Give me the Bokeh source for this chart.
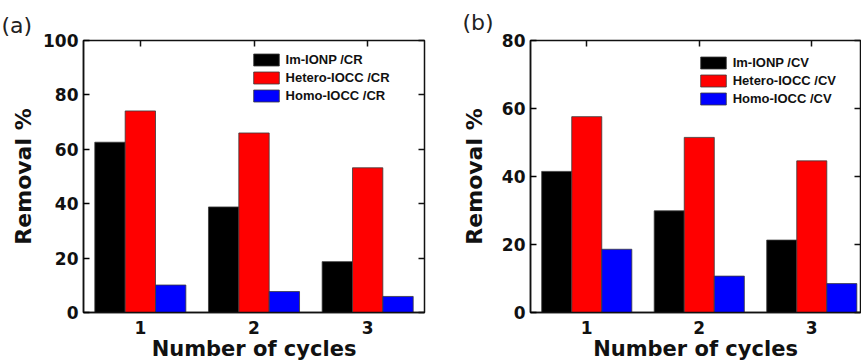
from bokeh.plotting import figure
from bokeh.models import (LinearAxis, FixedTicker, Range1d, Legend, LegendItem,
                          ColumnDataSource, Title)
from bokeh.transform import dodge
from bokeh.layouts import row
from bokeh.embed import file_html
from bokeh.resources import INLINE

# ---- data ----
cycles = [1, 2, 3]
series_cr = ["Im-IONP /CR", "Hetero-IOCC /CR", "Homo-IOCC /CR"]
series_cv = ["Im-IONP /CV", "Hetero-IOCC /CV", "Homo-IOCC /CV"]
im_cr = [62.6, 38.8, 18.7]
hetero_cr = [74.1, 66.0, 53.2]
homo_cr = [10.1, 7.7, 5.9]
im_cv = [41.5, 29.9, 21.3]
hetero_cv = [57.6, 51.5, 44.6]
homo_cv = [18.6, 10.7, 8.5]
yticks_cr = [0, 20, 40, 60, 80, 100]
yticks_cv = [0, 20, 40, 60, 80]

COLORS = ["#000000", "#ff0000", "#0000ff"]
BOLD_FONT = "DejaVu Sans"
BAR_W = 0.267
INK = "#111111"


def make_panel(tag, names, vals, yticks, ymax, width, xend, left, top, right,
               legend_loc, ylab_standoff, tag_offset, tag_standoff):
    p = figure(width=width, height=364, output_backend="svg", toolbar_location=None,
               title=None,
               x_range=Range1d(0.5, xend), y_range=Range1d(0, ymax),
               min_border_left=left, min_border_top=top, min_border_right=right,
               min_border_bottom=52)
    p.grid.grid_line_color = None
    p.outline_line_color = INK
    p.outline_line_width = 1.5
    p.background_fill_color = "white"
    p.border_fill_color = "white"

    src = ColumnDataSource(dict(cycle=cycles, a=vals[0], b=vals[1], c=vals[2]))
    rends = []
    for key, off, col in zip(["a", "b", "c"], [-BAR_W, 0.0, BAR_W], COLORS):
        r = p.vbar(x=dodge("cycle", off), top=key, width=BAR_W, bottom=0, source=src,
                   fill_color=col, line_color="#3a3a3a", line_width=0.8)
        rends.append(r)

    # bottom axis
    xa = p.xaxis[0]
    xa.ticker = FixedTicker(ticks=cycles)
    xa.major_tick_in = 0
    xa.major_tick_out = 0
    xa.minor_tick_in = 0
    xa.minor_tick_out = 0
    xa.axis_line_color = INK
    xa.axis_line_width = 1.5
    xa.major_label_text_font = BOLD_FONT
    xa.major_label_text_font_style = "bold"
    xa.major_label_text_font_size = "17px"
    xa.major_label_text_color = INK
    xa.major_label_standoff = 8
    xa.axis_label = "Number of cycles"
    xa.axis_label_text_font = BOLD_FONT
    xa.axis_label_text_font_style = "bold"
    xa.axis_label_text_font_size = "21px"
    xa.axis_label_text_color = INK
    xa.axis_label_standoff = 0

    # left axis
    ya = p.yaxis[0]
    ya.ticker = FixedTicker(ticks=yticks)
    ya.major_tick_in = 6
    ya.major_tick_out = 0
    ya.minor_tick_in = 0
    ya.minor_tick_out = 0
    ya.axis_line_color = INK
    ya.axis_line_width = 1.5
    ya.major_tick_line_width = 1.5
    ya.major_label_text_font = BOLD_FONT
    ya.major_label_text_font_style = "bold"
    ya.major_label_text_font_size = "17px"
    ya.major_label_text_color = INK
    ya.major_label_standoff = 5
    ya.axis_label = "Removal %"
    ya.axis_label_text_font = BOLD_FONT
    ya.axis_label_text_font_style = "bold"
    ya.axis_label_text_font_size = "22px"
    ya.axis_label_text_color = INK
    ya.axis_label_standoff = ylab_standoff

    # mirrored tick marks (top / right), no labels
    top_ax = LinearAxis(ticker=FixedTicker(ticks=cycles),
                        major_label_overrides={t: "" for t in cycles},
                        major_label_text_font_size="1px",
                        major_label_standoff=0, major_tick_in=6, major_tick_out=0,
                        minor_tick_in=0, minor_tick_out=0, axis_line_color=None,
                        major_tick_line_width=1.5, major_tick_line_color=INK)
    p.add_layout(top_ax, "above")
    right_ax = LinearAxis(ticker=FixedTicker(ticks=yticks),
                          major_label_overrides={t: "" for t in yticks},
                          major_label_text_font_size="1px",
                          major_label_standoff=0, major_tick_in=6, major_tick_out=0,
                          minor_tick_in=0, minor_tick_out=0, axis_line_color=None,
                          major_tick_line_width=1.5, major_tick_line_color=INK)
    p.add_layout(right_ax, "right")

    # panel tag "(a)" / "(b)"
    p.add_layout(Title(text=tag, align="left", offset=tag_offset, standoff=tag_standoff,
                       text_font="DejaVu Sans", text_font_style="normal",
                       text_font_size="22px", text_color="#222222"), "above")

    legend = Legend(items=[LegendItem(label=n, renderers=[r]) for n, r in zip(names, rends)],
                    location=legend_loc, glyph_width=32, glyph_height=15, spacing=3,
                    padding=0, margin=0, border_line_color=None, background_fill_alpha=0,
                    label_text_font="Liberation Sans", label_text_font_style="bold",
                    label_text_font_size="13px", label_text_color=INK,
                    label_standoff=4, label_height=15,
                    label_text_baseline="middle")
    p.add_layout(legend)
    return p


pa = make_panel("(a)", series_cr, [im_cr, hetero_cr, homo_cr], yticks_cr, 100,
                width=430, xend=3.5, left=83, top=35, right=6,
                legend_loc=(166.6, 209), ylab_standoff=4, tag_offset=-82, tag_standoff=6)
pb = make_panel("(b)", series_cv, [im_cv, hetero_cv, homo_cv], yticks_cv, 80,
                width=431, xend=3.433, left=100, top=40, right=1,
                legend_loc=(166.7, 205.7), ylab_standoff=12, tag_offset=-68, tag_standoff=12)

layout = row(pa, pb)
open("out.html", "w").write(file_html(layout, INLINE))
